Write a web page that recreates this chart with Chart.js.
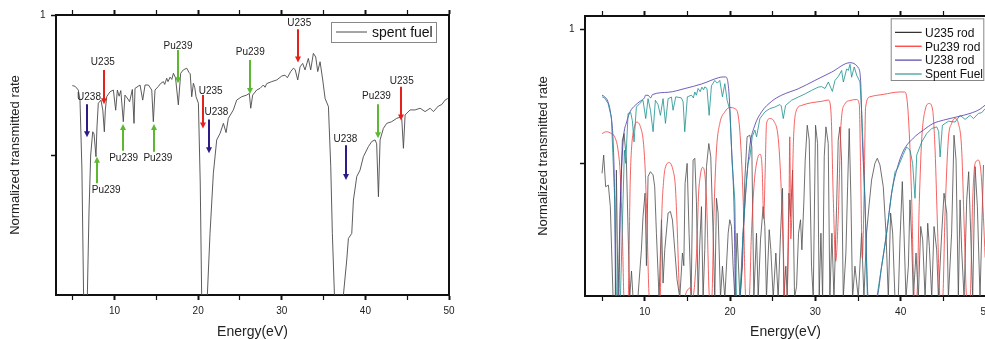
<!DOCTYPE html>
<html lang="en">
<head>
  <meta charset="UTF-8" />
  <title>Spent fuel transmission</title>
  <script src="https://cdn.jsdelivr.net/npm/chart.js"></script>
  <style>
    body {
      margin: 0;
      width: 985px;
      height: 339px;
      overflow: hidden;
      background: #fff;
      position: relative;
    }
    #leftChart { position: absolute; left: 0; top: 0; }
    #rightChart { position: absolute; left: 500px; top: 0; }
  </style>
</head>
<body>
  <canvas id="leftChart" width="470" height="339"></canvas>
  <canvas id="rightChart" width="500" height="339"></canvas>

  <script>
    // axis
    const xMin = 3, xMax = 50;
    const xTicks = [5, 10, 15, 20, 25, 30, 35, 40, 45, 50];
    const yTicks = [0.5, 1];

    // left panel: spent fuel
    const leftEnergy = [4.95,5.3,5.67,5.87,6.1,6.3,6.75,6.95,7.15,7.39,7.55,7.78,7.9,8.06,8.38,8.6,8.78,8.9,9.06,9.46,9.86,10.14,10.34,10.55,10.75,11.05,11.25,11.6,11.8,12.13,12.33,12.45,13.05,13.37,13.65,14.05,14.45,14.64,14.84,15.24,15.5,15.84,16.0,16.24,16.4,16.64,16.85,17.04,17.3,17.63,17.91,18.23,18.63,18.9,19.05,19.23,19.43,19.6,19.75,20.03,20.25,20.42,21.1,21.42,21.82,22.22,22.62,23.02,23.34,23.61,24.21,24.61,25.2,25.8,26.12,26.29,26.52,27.0,27.4,27.8,28.0,28.2,28.8,29.4,30.0,30.39,30.67,31.07,31.39,31.6,31.91,32.19,32.5,32.78,33.18,33.46,33.78,34.06,34.3,34.58,34.9,35.18,35.58,35.86,36.05,36.3,37.37,37.77,37.97,38.37,38.57,38.97,39.36,39.76,40.36,40.76,41.16,41.35,41.56,41.76,42.15,42.55,43.15,43.75,44.15,44.35,44.55,44.75,45.35,45.95,46.54,47.14,47.74,48.14,48.73,49.13,49.53,49.85];
    const leftRate = [0.748,0.745,0.732,0.696,0.45,0,0,0.3,0.5,0.583,0.575,0.494,0.6,0.685,0.696,0.66,0.583,0.66,0.708,0.726,0.732,0.66,0.732,0.71,0.73,0.619,0.714,0.7,0.69,0.734,0.613,0.738,0.75,0.696,0.75,0.75,0.732,0.619,0.732,0.745,0.755,0.762,0.752,0.774,0.762,0.778,0.77,0.792,0.775,0.679,0.792,0.804,0.81,0.795,0.79,0.708,0.756,0.74,0.708,0.685,0.4,0,0,0.22,0.435,0.554,0.577,0.613,0.58,0.631,0.661,0.696,0.708,0.714,0.72,0.667,0.714,0.732,0.738,0.75,0.742,0.755,0.762,0.768,0.782,0.785,0.776,0.798,0.81,0.805,0.768,0.815,0.827,0.804,0.845,0.804,0.863,0.85,0.798,0.833,0.768,0.702,0.673,0.458,0.22,0,0,0.125,0.202,0.22,0.339,0.423,0.446,0.494,0.53,0.548,0.554,0.54,0.351,0.554,0.595,0.613,0.619,0.631,0.635,0.63,0.524,0.643,0.661,0.661,0.667,0.655,0.667,0.655,0.675,0.68,0.696,0.702];

    // resonance markers on the left panel
    const arrowNames = ['U238','Pu239','U235','Pu239','Pu239','Pu239','U235','U238','Pu239','U235','U238','Pu239','U235'];
    const arrowEnergy = [6.71,7.86,8.74,10.97,14.72,17.55,20.54,21.3,26.2,31.95,37.65,41.48,44.27];
    const arrowFrom = [0.681,0.399,0.804,0.515,0.512,0.875,0.714,0.627,0.839,0.949,0.535,0.681,0.744];
    const arrowTo = [0.563,0.494,0.681,0.611,0.611,0.756,0.595,0.506,0.718,0.830,0.411,0.560,0.623];
    const labelEnergy = [6.95,9.0,8.6,11.09,15.18,17.59,21.5,22.18,26.23,32.09,37.61,41.32,44.35];
    const labelRate = [0.706,0.374,0.831,0.489,0.489,0.888,0.729,0.651,0.867,0.970,0.556,0.710,0.764];

    // right panel: single rods and spent fuel
    const u235E = [5.0,5.19,5.42,5.74,5.97,6.29,6.55,6.68,6.87,7.1,7.38,7.58,7.85,8.05,8.24,8.45,8.63,9.2,9.61,9.8,10.04,10.2,10.39,10.67,10.98,11.17,11.37,11.68,11.96,12.15,12.35,12.74,13.01,13.25,13.52,13.79,14.11,14.42,14.58,14.73,14.97,15.2,15.44,15.67,15.87,16.06,16.26,16.45,16.65,16.84,17.04,17.24,17.51,17.74,18.02,18.21,18.41,18.6,18.88,19.11,19.39,19.78,19.97,20.17,20.36,20.56,20.83,21.15,21.46,21.73,22.0,22.32,22.55,22.79,23.1,23.3,23.57,23.88,24.08,24.27,24.59,24.78,25.06,25.37,25.64,25.92,26.15,26.31,26.54,26.7,26.9,27.09,27.33,27.56,27.8,28.03,28.26,28.42,28.66,28.81,29.05,29.28,29.55,29.75,30.02,30.26,30.45,30.65,30.85,31.04,31.24,31.51,31.7,31.94,32.18,32.49,32.68,32.88,33.07,33.27,33.58,33.78,33.97,34.17,34.36,34.64,35.03,35.42,35.69,36.0,36.32,36.59,36.98,37.26,37.57,37.96,38.28,38.55,38.82,39.06,39.33,39.72,39.92,40.19,40.39,40.62,40.9,41.09,41.29,41.48,41.8,42.07,42.35,42.58,42.86,43.17,43.36,43.64,43.91,44.22,44.42,44.81,45.08,45.4,45.59,45.97,46.25,46.49,46.76,46.96,47.15,47.43,47.74,47.97,48.21,48.44,48.72,48.99,49.3,49.7];
    const u235T = [0.464,0.532,0.414,0.42,0.34,0,0,0.476,0,0.3,0.588,0.612,0.513,0.25,0,0.1,0,0,0.179,0.303,0.39,0.12,0.452,0.47,0.458,0.414,0.241,0,0.291,0.055,0.18,0.316,0.322,0.29,0.179,0.068,0,0.167,0.12,0.427,0.501,0.24,0,0.513,0.52,0.36,0,0.2,0.34,0,0.18,0.489,0.575,0.526,0.24,0,0.371,0.315,0,0.118,0,0.241,0.291,0.266,0.118,0,0.241,0,0.118,0.439,0.6,0.606,0.563,0,0.241,0,0.216,0.34,0.266,0,0.254,0.18,0,0.167,0,0.241,0.408,0,0.118,0,0.39,0.303,0.476,0,0.043,0.241,0.291,0.179,0.365,0.513,0.643,0.588,0.118,0,0.643,0.575,0,0.241,0,0.526,0.637,0.575,0,0.241,0,0.34,0.588,0.637,0.513,0,0.167,0.414,0.631,0.365,0,0.118,0,0.241,0,0.241,0.353,0.439,0.501,0.52,0.495,0.414,0.241,0,0.316,0.241,0,0,0.216,0.433,0.241,0,0.118,0.365,0.216,0,0.167,0,0.266,0.216,0,0.278,0.191,0,0.266,0.179,0,0.241,0.39,0.316,0,0.241,0.606,0.513,0,0.365,0.179,0,0.365,0.47,0.241,0,0.489,0.34,0,0.495];

    const pu239E = [5.0,5.5,6.09,6.48,6.87,7.15,7.38,7.58,8.05,8.3,8.44,8.75,9.08,9.49,9.84,10.05,10.24,10.55,11.8,12.0,12.2,12.39,12.89,13.36,13.58,13.75,14.15,14.6,14.93,15.32,15.6,16.1,16.3,16.49,16.77,17.08,17.27,17.6,17.86,18.1,18.41,18.8,19.39,19.97,20.56,20.95,21.22,21.54,21.85,22.24,22.51,22.83,23.18,23.5,23.75,23.95,24.1,24.28,24.67,25.18,25.65,25.96,26.24,26.43,26.65,26.9,27.0,27.12,27.45,27.72,28.39,29.56,30.73,31.52,31.83,32.1,32.38,32.69,33.0,33.47,34.06,34.83,35.15,35.3,35.5,35.7,35.89,36.4,37.96,39.92,40.43,40.7,41.01,41.29,41.6,41.88,42.19,42.46,42.86,43.36,43.75,44.03,44.34,44.61,44.92,45.19,45.58,45.97,46.37,46.76,47.15,47.47,47.74,48.13,48.44,48.72,49.11,49.42,49.7,49.9];
    const pu239T = [0.612,0.619,0.612,0.6,0.551,0.452,0.241,0,0,0.433,0.55,0.631,0.655,0.638,0.581,0.48,0.309,0,0,0.309,0.43,0.482,0.504,0.47,0.42,0.309,0,0,0.025,0.037,0,0.185,0.38,0.45,0.486,0.45,0.34,0,0,0.303,0.551,0.65,0.693,0.709,0.705,0.68,0.588,0.365,0,0,0.241,0.427,0.513,0.535,0.49,0.295,0.45,0.65,0.668,0.656,0.594,0.433,0.185,0,0,0.309,0.6,0.22,0.6,0.693,0.717,0.727,0.732,0.737,0.693,0.371,0.136,0.309,0.643,0.723,0.735,0.739,0.72,0.489,0.148,0.365,0.71,0.749,0.758,0.767,0.767,0.749,0.612,0.365,0,0,0.365,0.588,0.699,0.724,0.699,0.551,0.241,0,0,0.303,0.588,0.65,0.668,0.65,0.551,0.241,0,0,0.365,0.501,0.513,0.464,0.3,0.15];

    const u238E = [5.0,5.31,5.7,6.0,6.29,6.48,6.6,6.95,7.15,7.22,7.5,7.89,8.28,8.87,9.45,9.96,10.1,10.43,10.7,10.9,12.78,14.73,16.69,18.64,19.19,19.46,19.86,20.18,20.49,20.64,21.15,21.54,21.93,22.33,22.91,23.7,24.87,26.04,28.0,29.95,31.91,34.06,35.03,35.3,35.5,35.81,36.2,37.18,37.77,38.35,38.94,39.53,40.31,41.48,42.66,43.83,45.0,46.57,48.13,49.3,49.9];
    const u238T = [0.755,0.749,0.73,0.687,0.588,0.365,0,0,0.365,0.433,0.594,0.656,0.693,0.717,0.732,0.745,0.755,0.754,0.745,0.757,0.766,0.78,0.797,0.82,0.823,0.823,0.77,0.556,0.309,0,0,0.247,0.433,0.569,0.643,0.693,0.732,0.755,0.779,0.81,0.841,0.876,0.857,0.81,0.6,0.365,0,0,0.118,0.241,0.39,0.476,0.547,0.595,0.625,0.65,0.662,0.674,0.687,0.703,0.718];

    const fuelE = [5.0,5.3,5.7,6.09,6.48,6.68,7.15,7.46,7.62,7.77,8.05,8.36,8.55,8.75,9.02,9.41,9.8,10.12,10.39,10.67,10.98,11.25,11.56,11.84,12.15,12.43,12.74,13.13,13.32,13.64,14.3,14.5,14.69,15.0,15.48,15.7,15.87,16.05,16.26,16.5,16.7,16.9,17.04,17.3,17.55,17.82,18.21,18.5,18.8,19.11,19.39,19.66,19.97,20.25,20.56,20.75,21.15,21.54,21.93,22.1,22.33,22.6,22.91,23.11,23.5,24.09,24.67,25.26,25.85,26.0,26.24,26.51,27.21,28.0,28.8,29.56,30.34,30.73,31.13,31.52,31.99,32.3,32.69,33.08,33.28,33.67,33.86,34.06,34.25,34.56,34.84,35.23,35.43,35.55,35.81,36.1,37.2,37.77,38.35,38.94,39.34,39.6,40.31,40.7,41.1,41.4,41.68,41.88,42.47,43.05,43.64,44.23,44.45,44.62,44.89,45.59,46.38,46.96,47.55,48.14,48.53,49.11,49.5,49.9];
    const fuelT = [0.749,0.745,0.724,0.674,0.365,0,0,0.365,0.55,0.501,0.687,0.69,0.66,0.581,0.711,0.724,0.736,0.668,0.742,0.699,0.619,0.736,0.72,0.68,0.742,0.65,0.742,0.748,0.699,0.749,0.745,0.73,0.619,0.749,0.755,0.745,0.767,0.755,0.78,0.768,0.785,0.775,0.786,0.78,0.68,0.79,0.81,0.8,0.81,0.749,0.798,0.736,0.7,0.5,0.365,0,0,0.247,0.44,0.5,0.526,0.6,0.625,0.6,0.668,0.693,0.705,0.711,0.72,0.715,0.668,0.717,0.736,0.748,0.76,0.773,0.785,0.787,0.78,0.804,0.769,0.81,0.825,0.847,0.804,0.853,0.847,0.87,0.822,0.86,0.83,0.804,0.693,0.6,0.365,0,0,0.118,0.241,0.39,0.47,0.48,0.535,0.562,0.55,0.5,0.371,0.532,0.581,0.612,0.631,0.637,0.62,0.525,0.643,0.658,0.655,0.68,0.665,0.68,0.668,0.687,0.69,0.705];

    Chart.defaults.font.family = '"Liberation Sans", Arial, sans-serif';
    Chart.defaults.color = '#222';

    const pts = (xs, ys) => xs.map((v, i) => ({ x: v, y: ys[i] }));
    const setTicks = vals => s => { s.ticks = vals.map(v => ({ value: v })); };

    function axes(c) {
      const frame = { color: '#111', width: 2 };
      const xGrid = {
        drawOnChartArea: false, tickLength: 5, tickColor: '#111',
        tickWidth: ctx => (ctx.tick && ctx.tick.value % 10 === 0 ? 2 : 1.2)
      };
      return {
        x: {
          type: 'linear', position: 'bottom', min: xMin, max: xMax,
          afterBuildTicks: setTicks(xTicks),
          afterFit: s => { s.height = c.bottom; },
          grid: xGrid, border: frame,
          ticks: { autoSkip: false, maxRotation: 0, padding: 5, font: { size: 10 },
                   callback: v => (v % 10 === 0 ? String(v) : '') },
          title: { display: true, text: 'Energy(eV)', font: { size: 14, lineHeight: 1 },
                   padding: { top: 0, bottom: 0 } }
        },
        x2: {
          type: 'linear', position: 'top', min: xMin, max: xMax,
          afterBuildTicks: setTicks(xTicks),
          afterFit: s => { s.height = c.top; },
          grid: xGrid, border: frame, ticks: { display: false }
        },
        y: {
          type: 'linear', position: 'left', min: c.yMin, max: c.yMax,
          afterBuildTicks: setTicks(yTicks),
          afterFit: s => { s.width = c.left; },
          grid: { drawOnChartArea: false, tickLength: 5, tickColor: '#111', tickWidth: 1.5 },
          border: frame,
          ticks: { padding: 5.5, font: { size: 10 }, callback: v => (v === 1 ? '1' : '') },
          title: { display: true, text: 'Normalized transmitted rate', font: { size: 13, lineHeight: 1 },
                   padding: { top: c.titlePad, bottom: 0 } }
        },
        y2: {
          type: 'linear', position: 'right', min: c.yMin, max: c.yMax,
          afterFit: s => { s.width = c.right; },
          grid: { drawOnChartArea: false, drawTicks: false }, border: frame,
          ticks: { display: false }
        }
      };
    }

    function boxLegend(o) {
      return {
        id: 'boxLegend',
        afterDraw(chart) {
          const { ctx, chartArea: a } = chart;
          const bx = a.right - o.inset - o.w, by = a.top + o.top;
          ctx.save();
          ctx.fillStyle = '#fff';
          ctx.fillRect(bx, by, o.w, o.h);
          ctx.strokeStyle = '#888';
          ctx.lineWidth = 1;
          ctx.strokeRect(bx + 0.5, by + 0.5, o.w, o.h);
          ctx.font = o.size + 'px "Liberation Sans", Arial, sans-serif';
          ctx.textBaseline = 'middle';
          chart.data.datasets.forEach((d, i) => {
            const ry = by + o.first + i * o.step;
            ctx.strokeStyle = o.lineColors ? o.lineColors[i] : d.borderColor;
            ctx.beginPath();
            ctx.moveTo(bx + o.l0, ry);
            ctx.lineTo(bx + o.l1, ry);
            ctx.stroke();
            ctx.fillStyle = '#111';
            ctx.fillText(d.label, bx + o.tx, ry + 1);
          });
          ctx.restore();
        }
      };
    }

    const arrowColors = { U235: '#e5211b', Pu239: '#5cb82e', U238: '#2e1b86' };
    const arrowPlugin = {
      id: 'arrows',
      afterDatasetsDraw(chart) {
        const { ctx, scales: { x, y } } = chart;
        ctx.save();
        arrowNames.forEach((name, i) => {
          const px = Math.round(x.getPixelForValue(arrowEnergy[i]));
          const y0 = y.getPixelForValue(arrowFrom[i]);
          const y1 = y.getPixelForValue(arrowTo[i]);
          const dir = y1 > y0 ? 1 : -1;
          ctx.strokeStyle = ctx.fillStyle = arrowColors[name];
          ctx.lineWidth = 2;
          ctx.beginPath();
          ctx.moveTo(px, y0);
          ctx.lineTo(px, y1 - dir * 5);
          ctx.stroke();
          ctx.beginPath();
          ctx.moveTo(px - 3, y1 - dir * 6);
          ctx.lineTo(px + 3, y1 - dir * 6);
          ctx.lineTo(px, y1);
          ctx.closePath();
          ctx.fill();
          ctx.fillStyle = '#222';
          ctx.font = '10px "Liberation Sans", Arial, sans-serif';
          ctx.textAlign = 'center';
          ctx.textBaseline = 'middle';
          ctx.fillText(name, x.getPixelForValue(labelEnergy[i]), y.getPixelForValue(labelRate[i]));
        });
        ctx.restore();
      }
    };

    const common = {
      responsive: false,
      animation: false,
      devicePixelRatio: 1,
      layout: { padding: 0 },
      elements: { point: { radius: 0 } },
      plugins: { legend: { display: false }, tooltip: { enabled: false } }
    };

    new Chart(document.getElementById('leftChart'), {
      type: 'line',
      data: {
        datasets: [{
          label: 'spent fuel', data: pts(leftEnergy, leftRate),
          borderColor: '#4a4a4a', borderWidth: 0.9, tension: 0
        }]
      },
      options: Object.assign({}, common, {
        scales: axes({ yMin: 0, yMax: 1, left: 56, right: 21, top: 15, bottom: 44, titlePad: 8.5 })
      }),
      plugins: [arrowPlugin, boxLegend({ inset: 13, top: 7, w: 105, h: 20, first: 10, step: 14, size: 14, l0: 5, l1: 36, tx: 41 })]
    });

    new Chart(document.getElementById('rightChart'), {
      type: 'line',
      data: {
        datasets: [
          { label: 'U235 rod', data: pts(u235E, u235T), borderColor: '#4d4d4d', borderWidth: 0.8, order: 3 },
          { label: 'Pu239 rod', data: pts(pu239E, pu239T), borderColor: '#f23a3a', borderWidth: 0.8, order: 2, cubicInterpolationMode: 'monotone' },
          { label: 'U238 rod', data: pts(u238E, u238T), borderColor: '#4a35a8', borderWidth: 0.8, order: 1, cubicInterpolationMode: 'monotone' },
          { label: 'Spent Fuel', data: pts(fuelE, fuelT), borderColor: '#1a8f8f', borderWidth: 0.8, order: 0 }
        ]
      },
      options: Object.assign({}, common, {
        scales: axes({ yMin: 0.007, yMax: 1.05, left: 85, right: 14, top: 16, bottom: 43, titlePad: 36.8 })
      }),
      plugins: [boxLegend({ inset: 2.7, top: 2.3, w: 92.6, h: 61.7, first: 14, step: 13.9, size: 12, l0: 4.3, l1: 31, tx: 34.3,
                            lineColors: ['#000000', '#ff0000', '#2f1c96', '#0e8080'] })]
    });
  </script>
</body>
</html>
